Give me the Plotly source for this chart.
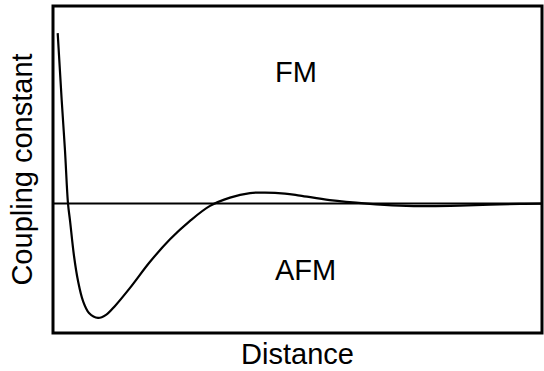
import plotly.graph_objects as go

# Curve (distance, coupling constant) in arbitrary units
distance = [0.096, 0.178, 0.245, 0.307, 0.348, 0.429, 0.511, 0.613, 0.736, 0.920,
            1.084, 1.268, 1.575, 1.984, 2.393, 2.802, 3.211, 3.62, 4.029, 4.335,
            4.744, 5.05, 5.66, 6.42, 7.09, 7.71, 8.32, 8.94, 9.55, 10.0]
coupling = [1.70, 1.03, 0.53, 0.0, -0.17, -0.52, -0.77, -0.97, -1.09, -1.14,
            -1.11, -1.02, -0.84, -0.58, -0.356, -0.172, -0.023, 0.06, 0.105, 0.11,
            0.10, 0.08, 0.035, 0.0, -0.02, -0.025, -0.02, -0.01, -0.002, 0.0]

x_range = [0, 10]
y_range = [-1.29, 1.97]

region_labels = ["FM", "AFM"]
region_x = [4.5, 4.5]
region_y = [1.31, -0.66]

font_family = "Liberation Sans, Arial, Helvetica, sans-serif"

fig = go.Figure()
fig.add_trace(go.Scatter(x=x_range, y=[0, 0], mode="lines",
                         line=dict(color="black", width=2), hoverinfo="skip"))
fig.add_trace(go.Scatter(x=distance, y=coupling, mode="lines",
                         line=dict(color="black", width=2.2, shape="spline", smoothing=1.0)))

for lab, lx, ly in zip(region_labels, region_x, region_y):
    fig.add_annotation(x=lx, y=ly, text=lab, showarrow=False, xanchor="left",
                       yanchor="middle", font=dict(size=29, color="black", family=font_family))

fig.add_shape(type="rect", xref="paper", yref="paper", x0=0, y0=0, x1=1, y1=1,
              line=dict(color="black", width=3))

fig.update_layout(
    width=544, height=371,
    margin=dict(l=53, r=2, t=6, b=38),
    paper_bgcolor="white", plot_bgcolor="white",
    showlegend=False,
    font=dict(family=font_family, color="black"),
    xaxis=dict(range=x_range, showticklabels=False, showgrid=False, zeroline=False,
               ticks="", title=dict(text="Distance", font=dict(size=29), standoff=10)),
    yaxis=dict(range=y_range, showticklabels=False, showgrid=False, zeroline=False,
               ticks="", title=dict(text="Coupling constant", font=dict(size=29), standoff=10)),
)

fig.write_html("out.html")
